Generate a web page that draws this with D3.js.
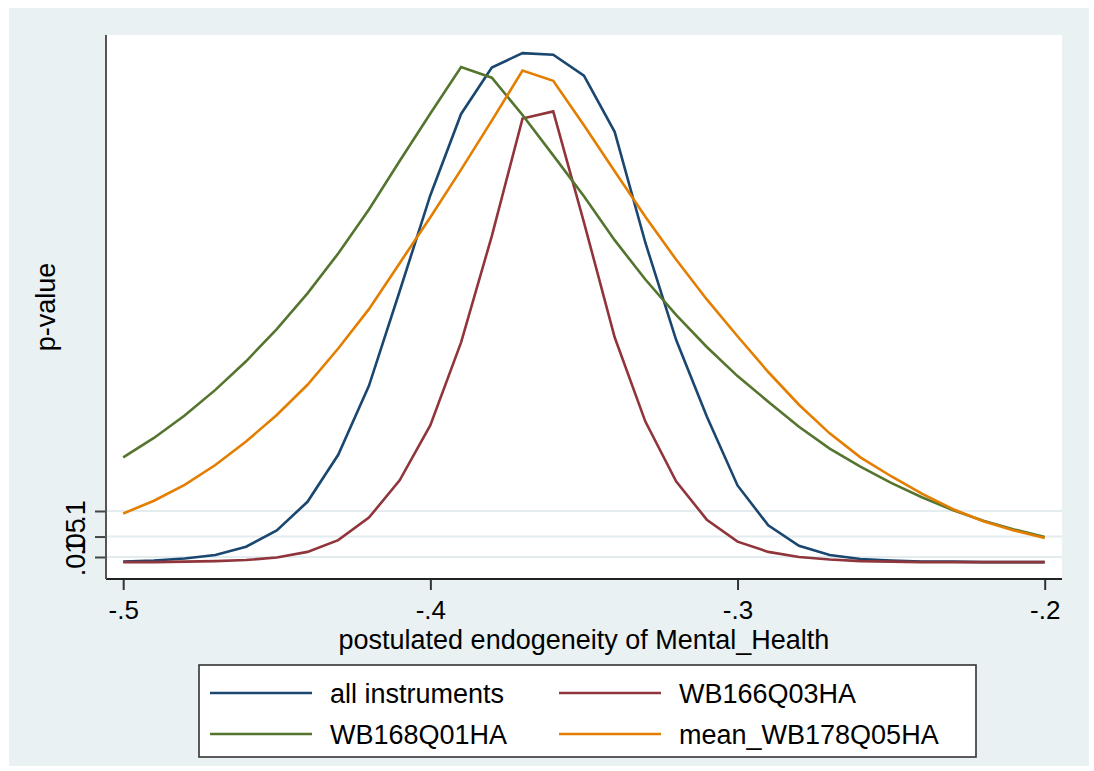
<!DOCTYPE html>
<html>
<head>
<meta charset="utf-8">
<script src="https://cdn.jsdelivr.net/npm/d3@7"></script>
<style>
  html, body { margin: 0; padding: 0; background: #ffffff; }
  svg { display: block; }
  text { font-family: "Liberation Sans", Arial, Helvetica, sans-serif; fill: #000; }
</style>
</head>
<body>
<svg id="chart" width="1094" height="771"></svg>
<script>
// postulated endogeneity grid
const endogeneity = [-0.50, -0.49, -0.48, -0.47, -0.46, -0.45, -0.44, -0.43, -0.42, -0.41, -0.40,
                     -0.39, -0.38, -0.37, -0.36, -0.35, -0.34, -0.33, -0.32, -0.31, -0.30,
                     -0.29, -0.28, -0.27, -0.26, -0.25, -0.24, -0.23, -0.22, -0.21, -0.20];

// p-values per instrument set
const allInstruments = [0.001, 0.003, 0.007, 0.014, 0.030, 0.062, 0.118, 0.210, 0.345, 0.530, 0.718,
                        0.877, 0.968, 0.996, 0.993, 0.952, 0.842, 0.625, 0.435, 0.285, 0.150,
                        0.072, 0.032, 0.014, 0.006, 0.003, 0.001, 0.001, 0.000, 0.000, 0.000];
const wb166q03ha = [0.000, 0.000, 0.001, 0.002, 0.004, 0.009, 0.020, 0.043, 0.087, 0.160, 0.268,
                    0.430, 0.638, 0.868, 0.882, 0.665, 0.440, 0.275, 0.158, 0.083, 0.040,
                    0.020, 0.010, 0.005, 0.002, 0.001, 0.000, 0.000, 0.000, 0.000, 0.000];
const wb168q01ha = [0.205, 0.243, 0.287, 0.337, 0.393, 0.456, 0.526, 0.604, 0.690, 0.785, 0.878,
                    0.969, 0.948, 0.875, 0.796, 0.716, 0.630, 0.553, 0.484, 0.421, 0.364,
                    0.314, 0.265, 0.222, 0.187, 0.155, 0.127, 0.102, 0.081, 0.064, 0.049];
const meanWb178q05ha = [0.095, 0.120, 0.151, 0.190, 0.236, 0.288, 0.347, 0.418, 0.495, 0.585, 0.675,
                        0.768, 0.864, 0.962, 0.942, 0.855, 0.765, 0.676, 0.592, 0.514, 0.442,
                        0.372, 0.308, 0.252, 0.205, 0.168, 0.134, 0.104, 0.080, 0.062, 0.047];

const seriesNames = ["all instruments", "WB166Q03HA", "WB168Q01HA", "mean_WB178Q05HA"];
const seriesValues = [allInstruments, wb166q03ha, wb168q01ha, meanWb178q05ha];
const seriesColors = ["#1a476f", "#90353b", "#55752f", "#e37e00"];

const xTicks = [-0.5, -0.4, -0.3, -0.2];
const xTickLabels = ["-.5", "-.4", "-.3", "-.2"];
const yTicks = [0.01, 0.05, 0.1];
const yTickLabels = [".01", ".05", ".1"];

const xTitle = "postulated endogeneity of Mental_Health";
const yTitle = "p-value";

// ---- layout ----
const svg = d3.select("#chart");
const W = 1094, H = 771;
const plot = { left: 106, right: 1062, top: 35, bottom: 579 };
const fontSize = 27;

const x = d3.scaleLinear().domain([-0.5, -0.2]).range([123.2, 1044.7]);
const y = d3.scaleLinear().domain([0, 1]).range([562.1, 51.1]);

// graph region background
svg.append("rect").attr("x", 0).attr("y", 0).attr("width", W).attr("height", H).attr("fill", "#ffffff");
svg.append("rect").attr("x", 9).attr("y", 8).attr("width", 1080).attr("height", 758).attr("fill", "#e9f1f3");
// plot region
svg.append("rect")
  .attr("x", plot.left).attr("y", plot.top)
  .attr("width", plot.right - plot.left).attr("height", plot.bottom - plot.top)
  .attr("fill", "#ffffff");

// horizontal grid lines at labelled p-values
svg.append("g").selectAll("line").data(yTicks).join("line")
  .attr("x1", plot.left).attr("x2", plot.right)
  .attr("y1", d => y(d)).attr("y2", d => y(d))
  .attr("stroke", "#e3ecef").attr("stroke-width", 2);

// series lines
const line = d3.line()
  .x((d, i) => x(endogeneity[i]))
  .y(d => y(d));

svg.append("g").selectAll("path").data(seriesValues).join("path")
  .attr("d", d => line(d))
  .attr("fill", "none")
  .attr("stroke", (d, i) => seriesColors[i])
  .attr("stroke-width", 2.6)
  .attr("stroke-linejoin", "miter");

// x axis
const xAxis = d3.axisBottom(x)
  .tickValues(xTicks)
  .tickFormat((d, i) => xTickLabels[i])
  .tickSize(11);
const gx = svg.append("g").attr("transform", `translate(0,${plot.bottom})`).call(xAxis);
gx.select(".domain").remove();
gx.append("line").attr("x1", plot.left).attr("x2", plot.right).attr("y1", 0).attr("y2", 0)
  .attr("stroke", "#222").attr("stroke-width", 2.2);
gx.selectAll(".tick line").attr("stroke", "#333").attr("stroke-width", 2);
gx.selectAll(".tick text")
  .attr("y", 40).attr("dy", 0)
  .attr("font-size", 26).attr("fill", "#000")
  .style("font-family", "'Liberation Sans', Arial, sans-serif");

// y axis
const yAxis = d3.axisLeft(y)
  .tickValues(yTicks)
  .tickFormat((d, i) => yTickLabels[i])
  .tickSize(11);
const gy = svg.append("g").attr("transform", `translate(${plot.left},0)`).call(yAxis);
gy.select(".domain").remove();
gy.append("line").attr("x1", 0).attr("x2", 0).attr("y1", plot.top).attr("y2", plot.bottom)
  .attr("stroke", "#555").attr("stroke-width", 2);
gy.selectAll(".tick line").attr("stroke", "#444").attr("stroke-width", 2);
gy.selectAll(".tick text")
  .attr("x", 0).attr("y", -21).attr("dy", 0)
  .attr("transform", "rotate(-90)")
  .attr("text-anchor", "middle")
  .attr("font-size", fontSize).attr("fill", "#000")
  .style("font-family", "'Liberation Sans', Arial, sans-serif");

// axis titles
svg.append("text")
  .attr("x", (x(-0.5) + x(-0.2)) / 2).attr("y", 649)
  .attr("text-anchor", "middle")
  .attr("font-size", fontSize)
  .text(xTitle);

svg.append("text")
  .attr("transform", `translate(55,${(plot.top + plot.bottom) / 2}) rotate(-90)`)
  .attr("text-anchor", "middle")
  .attr("font-size", fontSize)
  .text(yTitle);

// legend
const legend = svg.append("g");
legend.append("rect")
  .attr("x", 199).attr("y", 665).attr("width", 777).attr("height", 92)
  .attr("fill", "#ffffff").attr("stroke", "#333").attr("stroke-width", 1.6);

const legendCols = [210, 559];
const legendRows = [693, 734];
seriesNames.forEach((name, i) => {
  const cx = legendCols[i % 2];
  const cy = legendRows[Math.floor(i / 2)];
  legend.append("line")
    .attr("x1", cx).attr("x2", cx + 102)
    .attr("y1", cy).attr("y2", cy)
    .attr("stroke", seriesColors[i]).attr("stroke-width", 2.6);
  legend.append("text")
    .attr("x", cx + 120).attr("y", cy + 9.5)
    .attr("font-size", fontSize)
    .text(name);
});
</script>
</body>
</html>
